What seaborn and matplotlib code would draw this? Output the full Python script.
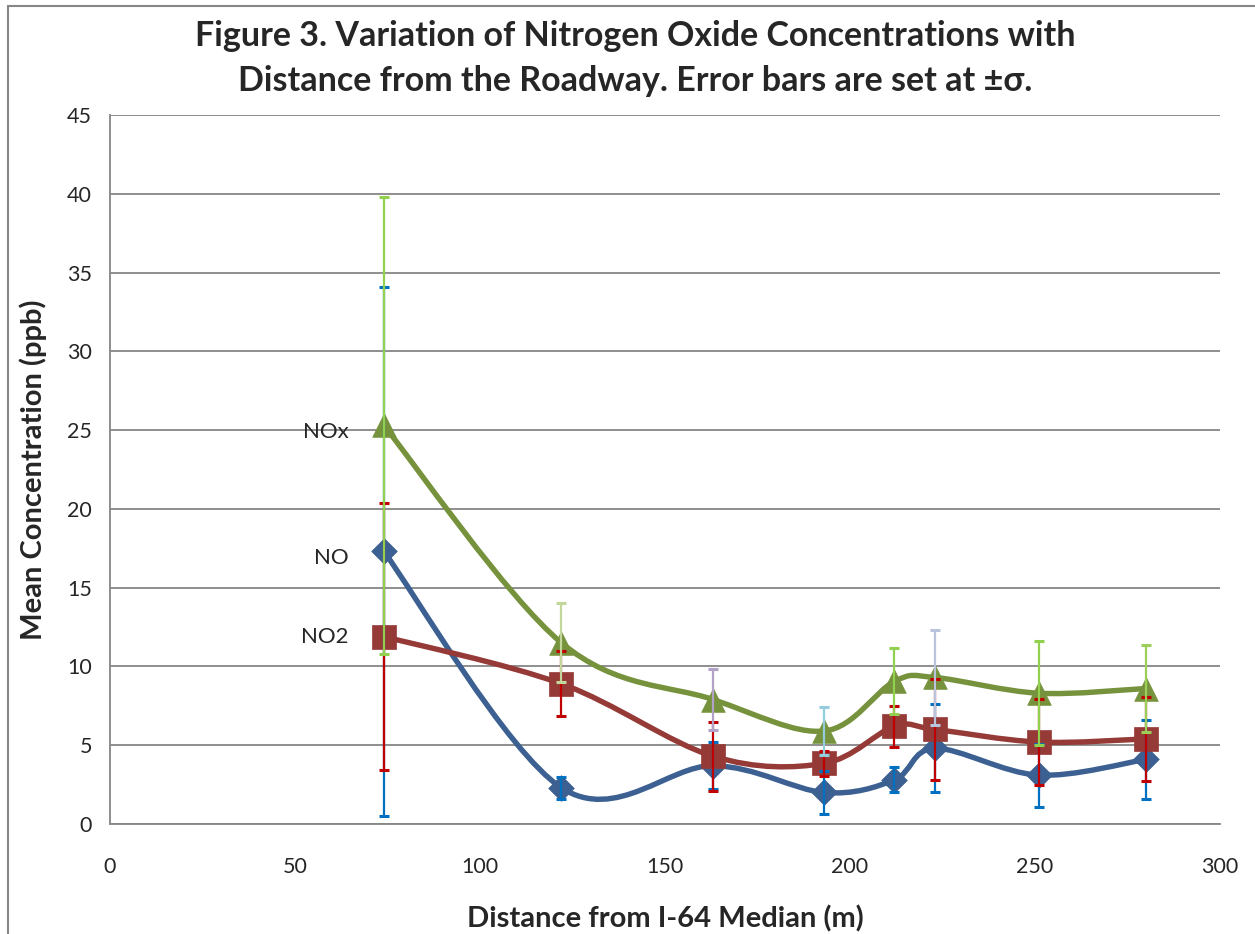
import numpy as np
import matplotlib
matplotlib.use("Agg")
import matplotlib.pyplot as plt
import seaborn as sns
from matplotlib.path import Path
from matplotlib.patches import PathPatch, Rectangle

# =========================
# DATA
# =========================
dist = [74, 122, 163, 193, 212, 223, 251, 280]

no_mean = [17.3, 2.3, 3.7, 2.0, 2.8, 4.8, 3.1, 4.1]
no_sd = [16.8, 0.7, 1.5, 1.35, 0.8, 2.8, 2.0, 2.5]

no2_mean = [11.9, 8.9, 4.3, 3.85, 6.2, 6.0, 5.2, 5.4]
no2_sd = [8.45, 2.05, 2.2, 0.8, 1.3, 3.2, 2.75, 2.65]

nox_mean = [25.3, 11.5, 7.9, 5.9, 9.05, 9.3, 8.3, 8.6]
nox_sd = [14.5, 2.5, 1.95, 1.5, 2.1, 3.0, 3.3, 2.75]

series_names = ["NO", "NO2", "NOx"]
x_ticks = [0, 50, 100, 150, 200, 250, 300]
y_ticks = [0, 5, 10, 15, 20, 25, 30, 35, 40, 45]

# =========================
# STYLE
# =========================
sns.set_style("white")
plt.rcParams["font.family"] = ["Lato", "DejaVu Sans"]

GRID = "#868686"
line_colors = {"NO": "#3B6091", "NO2": "#953A37", "NOx": "#76923C"}
markers = {"NO": "D", "NO2": "s", "NOx": "^"}
msizes = {"NO": 170, "NO2": 280, "NOx": 290}
err_colors = {
    "NO": ["#0070C0"] * 8,
    "NO2": ["#C00000"] * 8,
    "NOx": ["#92D050", "#C3D69B", "#B3A2C7", "#93CDDD",
            "#92D050", "#B9C4DC", "#92D050", "#9BCF5A"],
}


def smooth_path(xs, ys):
    # excel-like smoothed line: catmull-rom as cubic bezier segments
    pts = np.column_stack([xs, ys]).astype(float)
    n = len(pts)
    verts = [pts[0]]
    codes = [Path.MOVETO]
    for i in range(n - 1):
        p0 = pts[i - 1] if i > 0 else pts[i]
        p1 = pts[i]
        p2 = pts[i + 1]
        p3 = pts[i + 2] if i + 2 < n else pts[i + 1]
        c1 = p1 + (p2 - p0) / 6.0
        c2 = p2 - (p3 - p1) / 6.0
        verts += [c1, c2, p2]
        codes += [Path.CURVE4] * 3
    return Path(verts, codes)


# =========================
# FIGURE
# =========================
fig = plt.figure(figsize=(12.55, 9.34), dpi=100)
ax = fig.add_axes([110 / 1255, 1 - 824 / 934, 1110 / 1255, 709 / 934])

data = {
    "NO": (no_mean, no_sd),
    "NO2": (no2_mean, no2_sd),
    "NOx": (nox_mean, nox_sd),
}

for k, name in enumerate(series_names):
    mean, sd = data[name]
    patch = PathPatch(smooth_path(dist, mean), facecolor="none",
                      edgecolor=line_colors[name], lw=3.9, zorder=3 + k,
                      capstyle="round", joinstyle="round")
    ax.add_patch(patch)
    sns.scatterplot(x=dist, y=mean, marker=markers[name], s=msizes[name],
                    color=line_colors[name], edgecolor=line_colors[name],
                    linewidth=0.5, ax=ax, zorder=3 + k)

for k, name in enumerate(series_names):
    mean, sd = data[name]
    for xi, yi, si, c in zip(dist, mean, sd, err_colors[name]):
        ax.errorbar(xi, yi, yerr=si, fmt="none", ecolor=c, elinewidth=1.6,
                    capsize=3.5, capthick=2.2, zorder=7 + k)

# series labels next to the first point
for name, dy in zip(series_names, [-0.4, 0.0, -0.4]):
    ax.text(dist[0] - 9.5, data[name][0][0] + dy, name, ha="right",
            va="center", fontsize=16)

ax.set_xlim(0, 300)
ax.set_ylim(0, 45)
ax.set_xticks(x_ticks)
ax.set_yticks(y_ticks)
ax.tick_params(axis="both", labelsize=15.5, length=7, width=1.3, color=GRID,
               direction="out", pad=6)
ax.tick_params(axis="x", pad=17)
ax.yaxis.grid(True, color=GRID, lw=1.3)
ax.xaxis.grid(False)
for side in ["top", "right"]:
    ax.spines[side].set_visible(False)
for side in ["left", "bottom"]:
    ax.spines[side].set_color(GRID)
    ax.spines[side].set_linewidth(1.3)

# titles and axis labels
fig.text(635 / 1255, 1 - 36 / 934,
         "Figure 3. Variation of Nitrogen Oxide Concentrations with",
         ha="center", va="center", fontsize=24.5, fontweight="bold")
fig.text(635 / 1255, 1 - 81 / 934,
         "Distance from the Roadway. Error bars are set at \u00b1\u03c3.",
         ha="center", va="center", fontsize=24.5, fontweight="bold")
fig.text(33 / 1255, 1 - 470 / 934, "Mean Concentration (ppb)", rotation=90,
         ha="center", va="center", fontsize=21, fontweight="bold")
fig.text(665 / 1255, 2 / 934, "Distance from I-64 Median (m)",
         ha="center", va="bottom", fontsize=21, fontweight="bold")

# chart-area border (cut at right and bottom like the original)
fig.add_artist(Rectangle((8 / 1255, -0.2), 1.5, 1.2 - 6 / 934,
                         transform=fig.transFigure, fill=False,
                         edgecolor=GRID, lw=1.5))

fig.savefig("out.png", dpi=100)
